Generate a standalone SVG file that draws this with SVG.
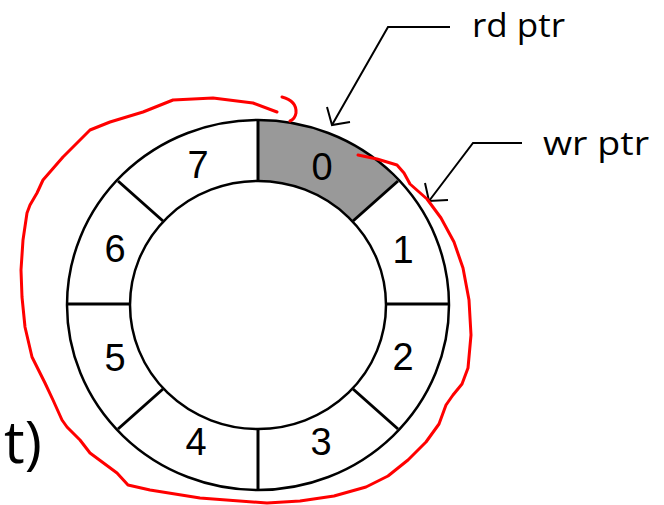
<svg xmlns="http://www.w3.org/2000/svg" width="664" height="505" viewBox="0 0 664 505">
<style>
.ring{fill:none;stroke:#000;stroke-width:2.5}
.div{stroke:#000;stroke-width:3;fill:none}
.num{font-family:"Liberation Sans",Arial,sans-serif;font-size:38px;fill:#000;text-anchor:middle}
.lbl{font-family:"Open Sans","Noto Sans",sans-serif;font-size:32px;fill:#000}
.ptr{fill:none;stroke:#000;stroke-width:2;stroke-linejoin:miter}
.ink{fill:none;stroke:#f00;stroke-width:3;stroke-linecap:round;stroke-linejoin:round}
</style>
<rect width="664" height="505" fill="#fff"/>
<g id="slot0">
<path d="M258,120 A191,185 0 0 1 398,181 L353,221 A128,124 0 0 0 258,181 Z" fill="#999"/>
<text class="num" x="322" y="180">0</text>
</g>
<g id="ring">
<ellipse class="ring" cx="258" cy="305" rx="191" ry="185"/>
<ellipse class="ring" cx="258" cy="305" rx="128" ry="124"/>
<line class="div" x1="258" y1="120" x2="258" y2="181"/>
<line class="div" x1="258" y1="429" x2="258" y2="490"/>
<line class="div" x1="67" y1="304" x2="130" y2="304"/>
<line class="div" x1="386" y1="304" x2="449" y2="304"/>
<line class="div" x1="118" y1="181" x2="163" y2="221"/>
<line class="div" x1="398" y1="181" x2="353" y2="221"/>
<line class="div" x1="118" y1="429" x2="163" y2="389"/>
<line class="div" x1="398" y1="429" x2="353" y2="389"/>
</g>
<g id="slot1"><text class="num" x="403" y="263">1</text></g>
<g id="slot2"><text class="num" x="403" y="370">2</text></g>
<g id="slot3"><text class="num" x="321" y="455">3</text></g>
<g id="slot4"><text class="num" x="196" y="455">4</text></g>
<g id="slot5"><text class="num" x="115" y="371">5</text></g>
<g id="slot6"><text class="num" x="115" y="262">6</text></g>
<g id="slot7"><text class="num" x="198" y="178">7</text></g>
<g id="rdptr"><text class="lbl" x="472" y="37" textLength="93" lengthAdjust="spacingAndGlyphs">rd ptr</text></g>
<g id="wrptr"><text class="lbl" x="543" y="155" textLength="106" lengthAdjust="spacingAndGlyphs">wr ptr</text></g>
<g id="connectors">
<path class="ptr" d="M450,27 H388 L332,125"/>
<path class="ptr" d="M327,107 L332,125 L350,122"/>
<path class="ptr" d="M522,143 H473 L429,201"/>
<path class="ptr" d="M425,183 L429,201 L448,200"/>
</g>
<g id="annotation">
<path class="ink" d="M358,155 L377,159 L397,165 L404,173 L410,184 L427,199 L441,218 L454,242 L463,268 L469,300 L471,335 L468,368 L462,384 L453,395 L446,405 L439,424 L426,442 L408,460 L388,476 L366,487 L334,496 L300,501 L267,503 L200,498 L150,490 L128,485 L117,473 L90,453 L80,440 L67,427 L62,420 L53,400 L45,383 L40,373 L32,357 L25,327 L22,297 L21,270 L23,240 L27,213 L30,205 L37,193 L43,180 L63,157 L90,130 L110,122 L143,112 L173,100 L213,98 L253,103 L277,112"/>
<path class="ink" d="M282,97 Q297,101 296,113 Q295,119 290,121"/>
<text x="4" y="463" font-family="Open Sans, Noto Sans, sans-serif" font-size="58" fill="#000">t)</text>
</g>
</svg>
